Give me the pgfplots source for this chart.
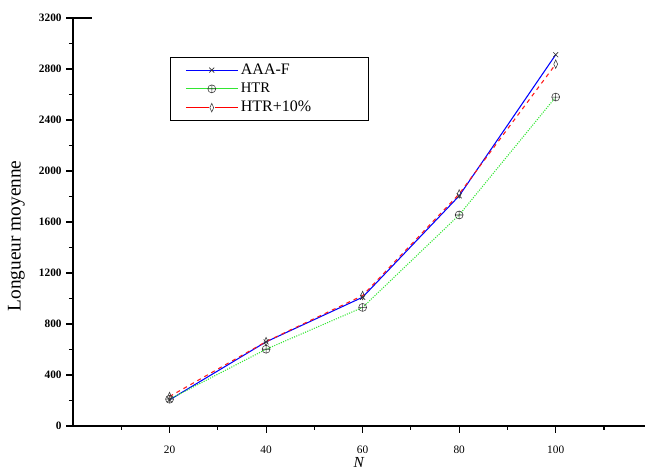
\documentclass[border=0pt]{standalone}
\usepackage{fontspec}
\setmainfont{Liberation Serif}
\usepackage{pgfplots}
\pgfplotsset{compat=1.18}
\definecolor{lgreen}{RGB}{50,230,50}
\definecolor{lred}{RGB}{255,50,50}
\begin{document}
\begin{tikzpicture}
\begin{axis}[
  scale only axis,
  width=429pt, height=306pt,
  xmin=0, xmax=118.5, ymin=0, ymax=3200,
  axis lines=left,
  axis line style={-, line width=0.8pt},
  xtick={20,40,60,80,100},
  minor xtick={10,30,50,70,90,110},
  ytick={0,400,...,3200},
  minor ytick={200,600,...,3000},
  tick align=outside,
  major tick length=5pt, minor tick length=3pt,
  tick style={line width=0.8pt, black},
  /pgf/number format/assume math mode=true,
  /pgf/number format/1000 sep={},
  xticklabel style={font=\fontsize{8.5}{10}\selectfont, anchor=center, yshift=-13pt},
  yticklabel style={font=\fontsize{8.5}{10}\selectfont\bfseries},
  xlabel={\textit{N}},
  ylabel={Longueur moyenne},
  xlabel style={font=\fontsize{11.5}{13}\selectfont, at={([yshift=-27.3pt]rel axis cs:0.5,0)}, anchor=center},
  ylabel style={font=\fontsize{14.5}{17}\selectfont, at={([xshift=-42.4pt]rel axis cs:0,0.466)}, anchor=center},
  legend style={at={(0.17,0.905)}, anchor=north west, draw=black, line width=0.6pt,
    font=\fontsize{12}{14}\selectfont, row sep=1pt, inner xsep=11pt, inner ysep=3pt,
    nodes={line width=0.4pt}},
  legend cell align=left,
]
\coordinate (ll) at (rel axis cs:0,0);
\coordinate (ur) at (rel axis cs:1,1);
\draw[line width=0.8pt] (rel axis cs:0,1) -- ++(14pt,0);
\addplot[blue, line width=0.8pt, mark=x, mark options={draw=black!80, scale=1.3, line width=0.5pt},
  legend image code/.code={
    \draw[blue, line width=0.8pt] (0cm,0cm) -- (1.36cm,0cm);
    \draw[black!80, line width=0.4pt] plot[mark=x, mark size=2pt] coordinates {(0.68cm,0cm)};}]
  coordinates {(20,205) (40,660) (60,1010) (80,1805) (100,2912)};
\addlegendentry{AAA-F}
\addplot[lgreen, densely dotted, line width=0.8pt, mark=oplus, mark options={solid, draw=black!80, scale=1.5, line width=0.4pt},
  legend image code/.code={
    \draw[lgreen, solid, line width=0.8pt] (0cm,0cm) -- (1.36cm,0cm);
    \draw[black!80, solid, line width=0.4pt] plot[mark=oplus, mark size=2pt] coordinates {(0.68cm,0cm)};}]
  coordinates {(20,210) (40,602) (60,930) (80,1655) (100,2580)};
\addlegendentry{\fontsize{11}{13}\selectfont HTR}
\addplot[red!90!white, dashed, line width=0.8pt, mark=diamond, mark options={solid, draw=black!80, xscale=0.6, scale=1.6, line width=0.4pt},
  legend image code/.code={
    \draw[red, solid, line width=1pt] (0cm,0cm) -- (0.6cm,0cm);
    \draw[red, solid, line width=1pt] (0.76cm,0cm) -- (1.36cm,0cm);
    \draw[black!80, solid, line width=0.4pt] plot[mark=diamond, mark size=2pt] coordinates {(0.68cm,0cm)};}]
  coordinates {(20,231) (40,662) (60,1023) (80,1820) (100,2838)};
\addlegendentry{HTR+10\%\hspace{30pt}\rule{0pt}{1pt}}
\end{axis}
\pgfresetboundingbox
\path[use as bounding box] ([shift={(-54.75pt,-33pt)}]ll) rectangle ([shift={(0pt,13.5pt)}]ur);
\end{tikzpicture}
\end{document}
